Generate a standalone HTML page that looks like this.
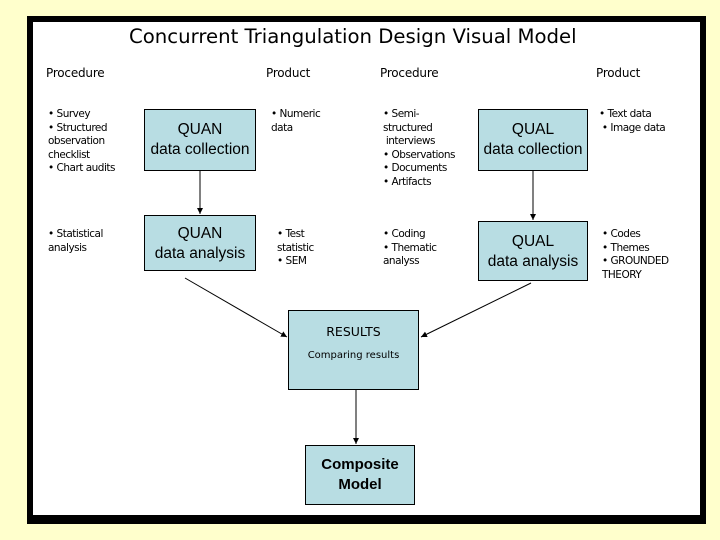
<!DOCTYPE html>
<html><head><meta charset="utf-8"><style>
body{margin:0;width:720px;height:540px;background:#ffffcc;position:relative;overflow:hidden;font-family:"DejaVu Sans","Liberation Sans",sans-serif;color:#000}
.frame{position:absolute;left:27px;top:16px;width:667px;height:493px;background:#fff;border-style:solid;border-color:#000;border-width:6px 6px 9px 6px}
.t{position:absolute;white-space:nowrap}
.h{font-size:12px;letter-spacing:-0.2px}
.s{font-size:10.5px;line-height:13.5px;letter-spacing:-0.5px}
.box{position:absolute;background:#b8dde3;border:1px solid #000;box-sizing:border-box;text-align:center;font-family:"Liberation Sans",sans-serif;font-size:15.5px;line-height:20px}
</style></head><body>
<div class="frame"></div>
<div class="t" style="left:129px;top:25px;font-size:19.7px">Concurrent Triangulation Design Visual Model</div>
<div class="t h" style="left:46px;top:66px">Procedure</div>
<div class="t h" style="left:266px;top:66px">Product</div>
<div class="t h" style="left:380px;top:66px">Procedure</div>
<div class="t h" style="left:596px;top:66px">Product</div>

<div class="t s" style="left:48px;top:108px">• Survey<br>• Structured<br>observation<br>checklist<br>• Chart audits</div>
<div class="t s" style="left:48px;top:228px">• Statistical<br>analysis</div>
<div class="t s" style="left:271px;top:108px">• Numeric<br>data</div>
<div class="t s" style="left:277px;top:228px">• Test<br>statistic<br>• SEM</div>
<div class="t s" style="left:383px;top:108px">• Semi-<br>structured<br>&nbsp;interviews<br>• Observations<br>• Documents<br>• Artifacts</div>
<div class="t s" style="left:383px;top:228px">• Coding<br>• Thematic<br>analyss</div>
<div class="t s" style="left:599px;top:108px">• Text data<br>&nbsp;• Image data</div>
<div class="t s" style="left:602px;top:228px">• Codes<br>• Themes<br>• GROUNDED<br>THEORY</div>

<div class="box" style="left:144px;top:109px;width:112px;height:62px;padding-top:10px">QUAN<br>data collection</div>
<div class="box" style="left:144px;top:215px;width:112px;height:56px;padding-top:8px">QUAN<br>data analysis</div>
<div class="box" style="left:478px;top:109px;width:110px;height:62px;padding-top:10px">QUAL<br>data collection</div>
<div class="box" style="left:478px;top:221px;width:110px;height:60px;padding-top:10px">QUAL<br>data analysis</div>
<div class="box" style="left:288px;top:310px;width:131px;height:80px;font-family:'DejaVu Sans',sans-serif;font-size:12.5px;padding-top:11px">RESULTS<div style="font-size:10px;margin-top:4px">Comparing results</div></div>
<div class="box" style="left:305px;top:445px;width:110px;height:60px;font-weight:bold;font-size:15px;padding-top:9px">Composite<br>Model</div>

<svg width="720" height="540" style="position:absolute;left:0;top:0">
<defs><marker id="a" markerWidth="7" markerHeight="7" refX="6" refY="3" orient="auto"><path d="M0,0 L6,3 L0,6z" fill="#000"/></marker></defs>
<g stroke="#000" stroke-width="1" marker-end="url(#a)">
<line x1="200" y1="171" x2="200" y2="214"/>
<line x1="533" y1="171" x2="533" y2="220"/>
<line x1="185" y1="278" x2="287" y2="337"/>
<line x1="531" y1="283" x2="421" y2="337"/>
<line x1="356" y1="390" x2="356" y2="444"/>
</g></svg>
</body></html>
